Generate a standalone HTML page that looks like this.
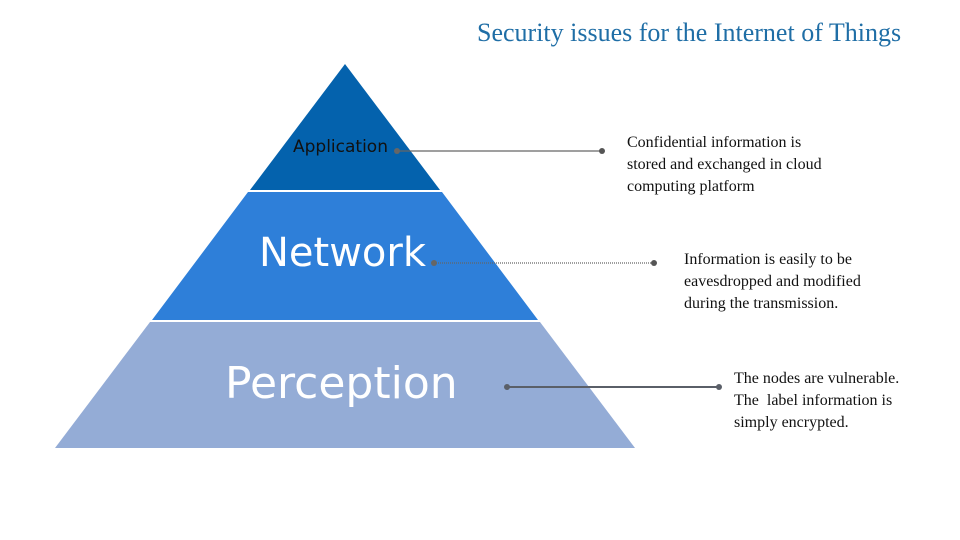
<!DOCTYPE html>
<html><head><style>
body{margin:0;width:960px;height:540px;background:#fff;overflow:hidden;position:relative}
.t{position:absolute;font-family:"Liberation Serif",serif;font-size:16px;line-height:22px;color:#111}
.s{font-family:"DejaVu Sans","Liberation Sans",sans-serif;position:absolute}
</style></head><body>
<svg width="960" height="540" style="position:absolute;left:0;top:0">
<polygon points="345,64 440,190 250,190" fill="#0462ad"/>
<polygon points="248,192 442,192 538,320 152,320" fill="#2e7fd9"/>
<polygon points="150,322 540,322 635,448 55,448" fill="#94acd6"/>
<line x1="397" y1="151" x2="602" y2="151" stroke="#666" stroke-width="1.3"/>
<circle cx="397" cy="151" r="3" fill="#666"/><circle cx="602" cy="151" r="3" fill="#555"/>
<line x1="434" y1="263" x2="654" y2="263" stroke="#666" stroke-width="1.2" stroke-dasharray="1,1"/>
<circle cx="434" cy="263" r="3" fill="#666"/><circle cx="654" cy="263" r="3" fill="#555"/>
<line x1="507" y1="387" x2="719" y2="387" stroke="#5a5f68" stroke-width="2"/>
<circle cx="507" cy="387" r="3" fill="#5a5f68"/><circle cx="719" cy="387" r="3" fill="#5a5f68"/>
</svg>
<div class="t" style="left:477px;top:17px;font-size:26px;line-height:32px;color:#1f6ea6">Security issues for the Internet of Things</div>
<div class="s" style="left:293px;top:137px;font-size:17px;color:#111">Application</div>
<div class="s" style="left:259px;top:230px;font-size:40px;color:#fff">Network</div>
<div class="s" style="left:225px;top:358px;font-size:44px;color:#fff">Perception</div>
<div class="t" style="left:627px;top:132px">Confidential information is<br>stored and exchanged in cloud<br>computing platform</div>
<div class="t" style="left:684px;top:249px">Information is easily to be<br>eavesdropped and modified<br>during the transmission.</div>
<div class="t" style="left:734px;top:368px">The nodes are vulnerable.<br>The&nbsp; label information is<br>simply encrypted.</div>
</body></html>
